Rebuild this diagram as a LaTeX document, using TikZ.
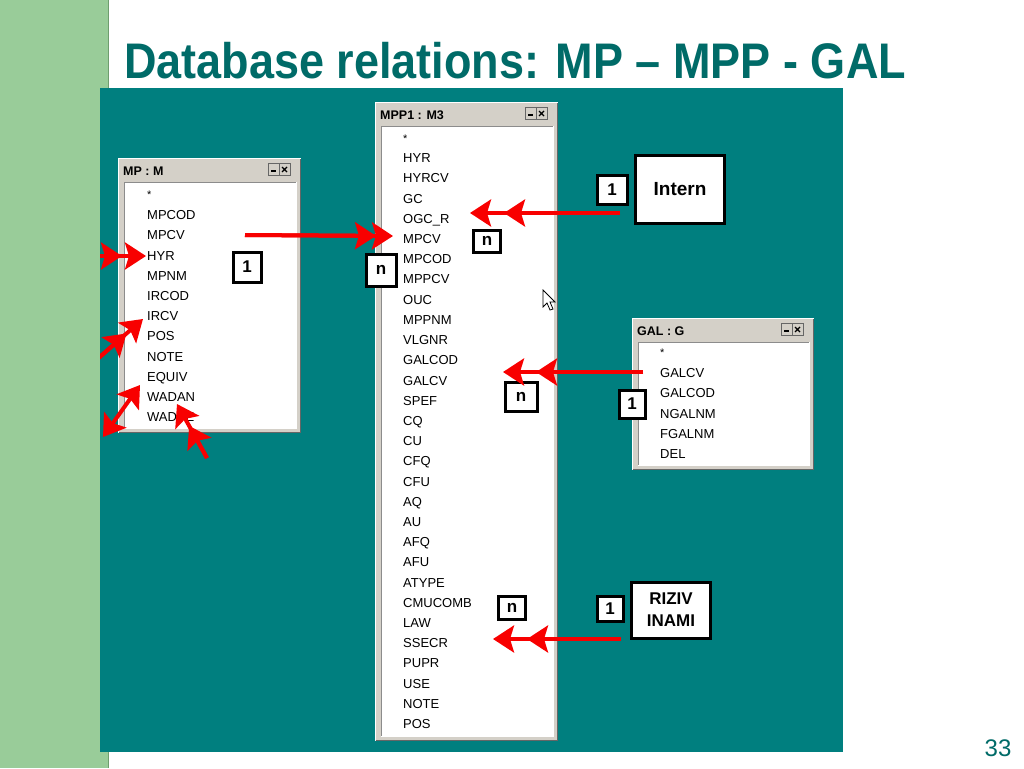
\documentclass[tikz,border=0pt]{standalone}
\usepackage{fontspec}
\setmainfont{Liberation Sans}
\usetikzlibrary{arrows.meta}
\definecolor{tealbg}{HTML}{007F7F}
\definecolor{titleteal}{HTML}{006B68}
\definecolor{greenbar}{HTML}{99CC99}
\definecolor{greenedge}{HTML}{6E9E6E}
\definecolor{wingray}{HTML}{D4D0C8}
\definecolor{arrred}{HTML}{F80000}
\newcommand\drawwin[6]{%
  \fill[wingray] (#1,#2) rectangle (#3,#4);
  \draw[white,line width=1pt] (#1+0.5,#4-0.5) -- (#1+0.5,#2+0.5) -- (#3-0.5,#2+0.5);
  \draw[black!60,line width=1pt] (#1+0.5,#4-0.5) -- (#3-0.5,#4-0.5) -- (#3-0.5,#2+0.5);
  \fill[white] (#1+6,#2+24) rectangle (#3-5,#4-5);
  \draw[black!45,line width=1pt] (#1+6,#4-5) -- (#1+6,#2+24) -- (#3-5,#2+24);
  \draw[white,line width=1pt] (#1+6,#4-5) -- (#3-5,#4-5) -- (#3-5,#2+24);
  \node[wintitle] (#6) at (#1+5,#2+17) {#5};
  \draw[black!60,fill=wingray] (#3-33,#2+5) rectangle (#3-22,#2+17);
  \draw[black!60,fill=wingray] (#3-22,#2+5) rectangle (#3-11,#2+17);
  \draw[black,line width=1.6pt] (#3-30,#2+13) -- (#3-25,#2+13);
  \draw[black,line width=1.3pt] (#3-19,#2+9) -- (#3-14,#2+14) (#3-19,#2+14) -- (#3-14,#2+9);
}
\begin{document}
\begin{tikzpicture}[x=1pt,y=-1pt,
  wintitle/.style={font=\fontsize{12.5}{14}\selectfont\bfseries, anchor=base west, inner sep=0pt},
  item/.style={font=\fontsize{13}{15}\selectfont, anchor=base west, inner sep=0pt},
  star/.style={font=\fontsize{11}{12}\selectfont, anchor=base west, inner sep=0pt},
  cardbox/.style={draw=black, line width=3pt, fill=white, font=\fontsize{17}{20}\selectfont\bfseries, inner sep=0pt},
  redarr/.style={draw=arrred, line width=4pt, -{Stealth[length=21pt,width=27pt,inset=4pt]}},
  redboth/.style={draw=arrred, line width=4pt, {Stealth[length=21pt,width=27pt,inset=4pt]}-{Stealth[length=21pt,width=27pt,inset=4pt]}},
  second/.style={shorten >=#1}
]
\useasboundingbox (0,0) rectangle (1024,768);
\fill[white] (0,0) rectangle (1024,768);
\fill[greenbar] (0,0) rectangle (108,768);
\draw[greenedge,line width=1pt] (108,0) -- (108,768);
\fill[tealbg] (100,88) rectangle (843,752);

% title
\node[anchor=base west, inner sep=0pt, text=titleteal, font=\fontsize{50}{60}\selectfont\bfseries] (title) at (124,78) {\scalebox{0.9}[1]{Database relations: MP -- MPP - GAL}};
\node[text=titleteal, font=\fontsize{24}{28}\selectfont, inner sep=0pt] (pagenum) at (998,748) {33};

% windows
\drawwin{118}{158}{301}{433}{MP : M}{mptitle}
\drawwin{375}{102}{558}{741}{MPP1 : M3}{mpptitle}
\drawwin{632}{318}{814}{470}{GAL : G}{galtitle}

% MP list
\node[star] (mpstar) at (147,198) {*};
\foreach \t [count=\i] in {MPCOD,MPCV,HYR,MPNM,IRCOD,IRCV,POS,NOTE,EQUIV,WADAN,WADPE}
  \node[item] (mp\i) at (147,{215+(\i-1)*20.2+4.7}) {\t};

% MPP list
\node[star] (mppstar) at (403,142) {*};
\foreach \t [count=\i] in {HYR,HYRCV,GC,OGC\_R,MPCV,MPCOD,MPPCV,OUC,MPPNM,VLGNR,GALCOD,GALCV,SPEF,CQ,CU,CFQ,CFU,AQ,AU,AFQ,AFU,ATYPE,CMUCOMB,LAW,SSECR,PUPR,USE,NOTE,POS}
  \node[item] (mpp\i) at (403,{158+(\i-1)*20.21+4.7}) {\t};

% GAL list
\node[star] (galstar) at (660,356) {*};
\foreach \t [count=\i] in {GALCV,GALCOD,NGALNM,FGALNM,DEL}
  \node[item] (gal\i) at (660,{373+(\i-1)*20.25+4.7}) {\t};

% mouse cursor
\draw[black, fill=white, line width=0.8pt, line join=miter] (543,290) -- (543,307) -- (547,303) -- (550,310) -- (553,309) -- (550,302) -- (555,302) -- cycle;

% cardinality boxes and entity boxes
\node[cardbox, minimum width=28pt, minimum height=30pt] (c1mp) at (247,267) {1};
\node[cardbox, minimum width=30pt, minimum height=32pt] (cnmp) at (381,270) {n};
\node[cardbox, minimum width=27pt, minimum height=22pt] (cnint) at (487,241) {n};
\node[cardbox, minimum width=30pt, minimum height=29pt] (c1int) at (612,190) {1};
\node[cardbox, minimum width=89pt, minimum height=68pt, font=\fontsize{19}{22}\selectfont\bfseries] (intern) at (680,189) {Intern};
\node[cardbox, minimum width=32pt, minimum height=29pt] (cngal) at (521,397) {n};
\node[cardbox, minimum width=26pt, minimum height=28pt] (c1gal) at (632,404) {1};
\node[cardbox, minimum width=27pt, minimum height=23pt] (cnriz) at (512,608) {n};
\node[cardbox, minimum width=26pt, minimum height=25pt] (c1riz) at (610,609) {1};
\node[cardbox, minimum width=79pt, minimum height=56pt, align=center, font=\fontsize{17}{22}\selectfont\bfseries] (riziv) at (671,610) {RIZIV\\INAMI};

% arrow end points
\coordinate (intS) at (620,213);
\coordinate (intE) at (470,213);
\coordinate (mpS) at (245,235);
\coordinate (mpE) at (393,236);
\coordinate (galS) at (643,372);
\coordinate (galE) at (503,372);
\coordinate (rizS) at (621,639);
\coordinate (rizE) at (493,639);
\coordinate (hyrS) at (96,256);
\coordinate (hyrE) at (146,256);
\coordinate (ircvS) at (94,362);
\coordinate (ircvE) at (143,319);
\coordinate (eqS) at (103,437);
\coordinate (eqE) at (140,385);
\coordinate (wadS) at (207,458);
\coordinate (wadE) at (177,404);

% arrows
\draw[redarr] (intS) -- (intE);
\draw[redarr, second=34pt] (intS) -- (intE);
\draw[redarr] (mpS) -- (mpE);
\draw[redarr, second=17pt] (mpS) -- (mpE);
\draw[redarr] (galS) -- (galE);
\draw[redarr, second=33pt] (galS) -- (galE);
\draw[redarr] (rizS) -- (rizE);
\draw[redarr, second=34pt] (rizS) -- (rizE);

\begin{scope}
\clip (100,88) rectangle (843,752);
\draw[redarr] (hyrS) -- (hyrE);
\draw[redarr, second=24pt] (hyrS) -- (hyrE);
\draw[redarr] (ircvS) -- (ircvE);
\draw[redarr, second=22pt] (ircvS) -- (ircvE);
\draw[redboth] (eqS) -- (eqE);
\draw[redarr] (wadS) -- (wadE);
\draw[redarr, second=25pt] (wadS) -- (wadE);
\end{scope}
\end{tikzpicture}
\end{document}
